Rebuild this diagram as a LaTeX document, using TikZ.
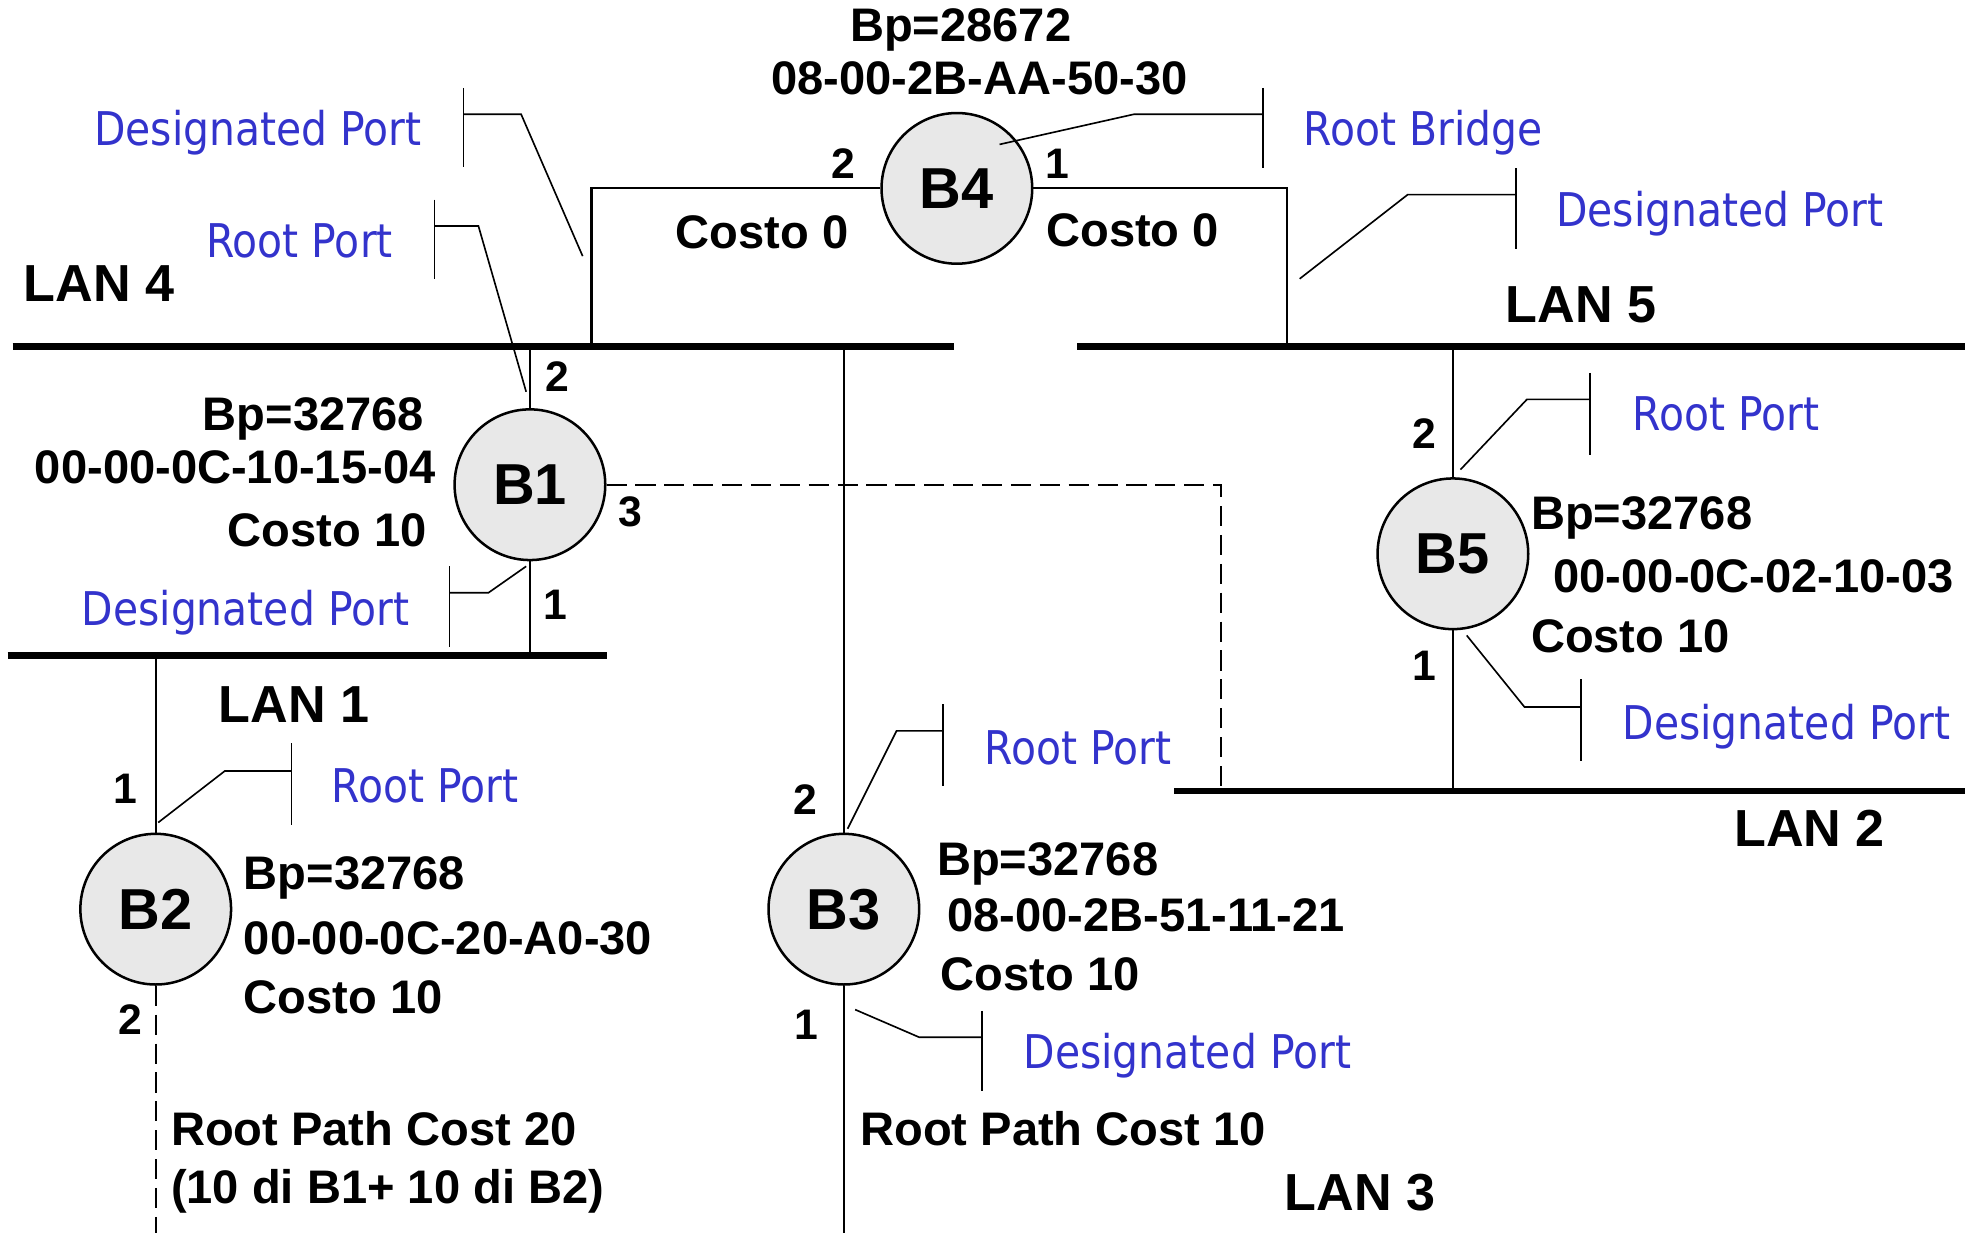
\documentclass[tikz,border=0pt]{standalone}
\usepackage{fontspec}
\setmainfont{Liberation Sans}
\newfontfamily\rolefont[FakeStretch=0.88]{DejaVu Sans}
\usetikzlibrary{positioning,calc}
\definecolor{roleblue}{RGB}{51,51,204}
\definecolor{bridgegray}{RGB}{232,232,232}

\begin{document}
\begin{tikzpicture}[x=1pt, y=-1pt,
    bridge/.style={circle, draw=black, line width=2pt, fill=bridgegray,
        minimum size=120pt, inner sep=0pt, font=\bfseries\fontsize{46}{50}\selectfont},
    lan/.style={line width=5pt},
    link/.style={line width=1.7pt},
    backup/.style={line width=1.7pt, dash pattern=on 16pt off 7pt},
    callout/.style={line width=1.3pt},
    info/.style={inner sep=0pt, font=\bfseries\fontsize{37.5}{40}\selectfont},
    lanlabel/.style={inner sep=0pt, font=\bfseries\fontsize{41.5}{44}\selectfont},
    portnum/.style={inner sep=0pt, font=\bfseries\fontsize{34}{36}\selectfont},
    role/.style={inner sep=0pt, text=roleblue, font=\rolefont\fontsize{37}{40}\selectfont}
  ]
  \useasboundingbox (0,0) rectangle (1568,982);

  % LAN segments
  \coordinate (lan4w) at (10,276);   \coordinate (lan4e) at (760,276);
  \coordinate (lan5w) at (858,276);  \coordinate (lan5e) at (1565,276);
  \coordinate (lan1w) at (6,522);    \coordinate (lan1e) at (483,522);
  \coordinate (lan2w) at (935,630);  \coordinate (lan2e) at (1565,630);
  \draw[lan] (lan4w) -- (lan4e);
  \draw[lan] (lan5w) -- (lan5e);
  \draw[lan] (lan1w) -- (lan1e);
  \draw[lan] (lan2w) -- (lan2e);

  \node[lanlabel, anchor=base] (lan4) at (79,240) {LAN 4};
  \node[lanlabel, anchor=base] (lan5) at (1259,257) {LAN 5};
  \node[lanlabel, anchor=base] (lan1) at (234,575) {LAN 1};
  \node[lanlabel, anchor=base] (lan2) at (1441,674) {LAN 2};
  \node[lanlabel, anchor=base] (lan3) at (1083,964) {LAN 3};

  % bridges
  \node[bridge] (B4) at (762,150) {B4};
  \node[bridge] (B1) at (422,386) {B1};
  \node[bridge] (B5) at (1157,441) {B5};
  \node[bridge] (B2) at (124,724) {B2};
  \node[bridge] (B3) at (672,724) {B3};

  % ports to LANs
  \coordinate (b4tap4) at (471,276);
  \coordinate (b4tap5) at (1025,276);
  \draw[link] (B4.west) -| (b4tap4);
  \draw[link] (B4.east) -| (b4tap5);
  \draw[link] (B1.north |- lan4w) -- (B1.north);
  \draw[link] (B1.south) -- (B1.south |- lan1w);
  \draw[backup] (B1.east) -| (972,630);
  \draw[link] (B5.north |- lan5w) -- (B5.north);
  \draw[link] (B5.south) -- (B5.south |- lan2w);
  \draw[link] (B2.north |- lan1w) -- (B2.north);
  \draw[backup] (B2.south) -- (B2.south |- 0,982);
  \draw[link] (B3.north |- lan4w) -- (B3.north);
  \draw[link] (B3.south) -- (B3.south |- 0,982);

  % port numbers
  \node[portnum, anchor=base] (p42) at (672,142) {2};
  \node[portnum, anchor=base] (p41) at (842,142) {1};
  \node[portnum, anchor=base] (p12) at (444,312) {2};
  \node[portnum, anchor=base] (p13) at (502,419) {3};
  \node[portnum, anchor=base] (p11) at (442,493) {1};
  \node[portnum, anchor=base] (p52) at (1134,357) {2};
  \node[portnum, anchor=base] (p51) at (1134,542) {1};
  \node[portnum, anchor=base] (p21) at (100,640) {1};
  \node[portnum, anchor=base] (p22) at (104,824) {2};
  \node[portnum, anchor=base] (p32) at (641,649) {2};
  \node[portnum, anchor=base] (p31) at (642,828) {1};

  % bridge data
  \node[info, anchor=base] (b4bp) at (765,33) {Bp=28672};
  \node[info, anchor=base] (b4mac) at (780,75) {08-00-2B-AA-50-30};
  \node[info, anchor=base] (b4c2) at (607,198) {Costo 0};
  \node[info, anchor=base] (b4c1) at (902,196) {Costo 0};

  \node[info, anchor=base east] (b1bp) at (338,343) {Bp=32768};
  \node[info, anchor=base east] (b1mac) at (347,385) {00-00-0C-10-15-04};
  \node[info, anchor=base east] (b1c) at (340,435) {Costo 10};

  \node[info, anchor=base west] (b5bp) at (1219,422) {Bp=32768};
  \node[info, anchor=base west] (b5mac) at (1237,472) {00-00-0C-02-10-03};
  \node[info, anchor=base west] (b5c) at (1219,520) {Costo 10};

  \node[info, anchor=base west] (b2bp) at (194,708) {Bp=32768};
  \node[info, anchor=base west] (b2mac) at (194,760) {00-00-0C-20-A0-30};
  \node[info, anchor=base west] (b2c) at (194,807) {Costo 10};
  \node[info, anchor=base west] (b2rpc) at (136,912) {Root Path Cost 20};
  \node[info, anchor=base west] (b2sum) at (136,958) {(10 di B1+ 10 di B2)};

  \node[info, anchor=base west] (b3bp) at (746,697) {Bp=32768};
  \node[info, anchor=base west] (b3mac) at (754,742) {08-00-2B-51-11-21};
  \node[info, anchor=base west] (b3c) at (749,789) {Costo 10};
  \node[info, anchor=base west] (b3rpc) at (685,912) {Root Path Cost 10};

  % port roles
  \node[role, anchor=base east] (dp4w) at (336,116) {Designated Port};
  \draw[callout] (369,70) -- (369,133);
  \draw[callout] (369,91) -- (415,91) -- (464,204);

  \node[role, anchor=base east] (rp1) at (313,205) {Root Port};
  \draw[callout] (346,159) -- (346,222);
  \draw[callout] (346,180) -- (381,180) -- (419,312);

  \node[role, anchor=base west] (root) at (1038,116) {Root Bridge};
  \draw[callout] (1006,70) -- (1006,134);
  \draw[callout] (1006,91) -- (903,91) -- (796,115);

  \node[role, anchor=base west] (dp4e) at (1239,180) {Designated Port};
  \draw[callout] (1207,134) -- (1207,198);
  \draw[callout] (1207,155) -- (1121,155) -- (1035,222);

  \node[role, anchor=base west] (rp5) at (1300,343) {Root Port};
  \draw[callout] (1266,297) -- (1266,362);
  \draw[callout] (1266,318) -- (1216,318) -- (1163,374);

  \node[role, anchor=base west] (dp5) at (1292,589) {Designated Port};
  \draw[callout] (1259,541) -- (1259,606);
  \draw[callout] (1259,563) -- (1214,563) -- (1168,506);

  \node[role, anchor=base west] (rp3) at (784,609) {Root Port};
  \draw[callout] (751,561) -- (751,626);
  \draw[callout] (751,582) -- (714,582) -- (675,660);

  \node[role, anchor=base east] (dp1) at (326,498) {Designated Port};
  \draw[callout] (358,451) -- (358,515);
  \draw[callout] (358,472) -- (389,472) -- (419,451);

  \node[role, anchor=base west] (rp2) at (264,639) {Root Port};
  \draw[callout] (232,592) -- (232,657);
  \draw[callout] (232,614) -- (179,614) -- (126,655);

  \node[role, anchor=base west] (dp3) at (815,851) {Designated Port};
  \draw[callout] (782,805) -- (782,869);
  \draw[callout] (782,826) -- (732,826) -- (681,804);
\end{tikzpicture}
\end{document}
